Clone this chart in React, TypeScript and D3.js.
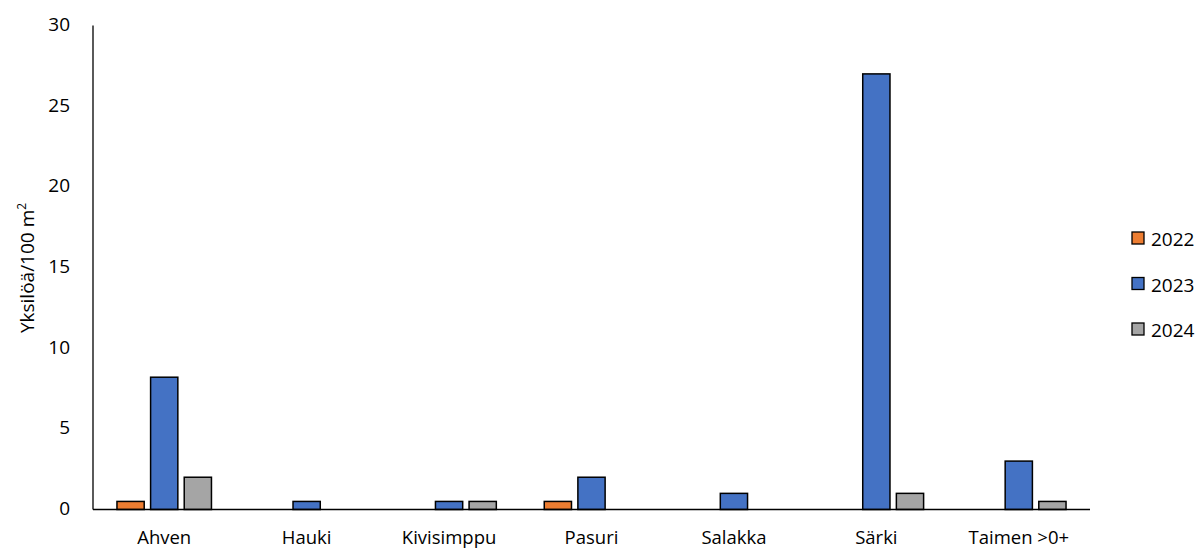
import React, { useEffect, useRef } from "react";
import * as d3 from "d3";

const categories = ["Ahven", "Hauki", "Kivisimppu", "Pasuri", "Salakka", "Särki", "Taimen >0+"];
const years = ["2022", "2023", "2024"];
const values2022 = [0.5, 0, 0, 0.5, 0, 0, 0];
const values2023 = [8.2, 0.5, 0.5, 2, 1, 27, 3];
const values2024 = [2, 0, 0.5, 0, 0, 1, 0.5];
const yTicks = [0, 5, 10, 15, 20, 25, 30];
const colors = ["#ED7D31", "#4472C4", "#A5A5A5"];

const App = () => {
  const ref = useRef<SVGSVGElement>(null);

  useEffect(() => {
    const svg = d3.select(ref.current);
    svg.selectAll("*").remove();

    const width = 1203;
    const height = 549;
    const left = 93;
    const right = 1090;
    const top = 25.5;
    const bottom = 509.5;
    const font = "'Open Sans', sans-serif";

    svg.attr("width", width).attr("height", height);

    const series = [values2022, values2023, values2024];

    const x = d3.scaleBand().domain(categories).range([left, right]).padding(0);
    const inner = d3.scaleBand().domain(years).range([0, 94.5]).paddingInner(0.19);
    const y = d3.scaleLinear().domain([0, 30]).range([bottom, top]);

    // bars
    categories.forEach((c, i) => {
      const gx = (x(c) as number) + x.bandwidth() / 2 - 47.25;
      years.forEach((yr, j) => {
        const v = series[j][i];
        if (!v) return;
        svg.append("rect")
          .attr("x", gx + (inner(yr) as number))
          .attr("y", y(v))
          .attr("width", inner.bandwidth())
          .attr("height", y(0) - y(v))
          .attr("fill", colors[j])
          .attr("stroke", "#000")
          .attr("stroke-width", 1.5);
      });
    });

    // axes lines
    svg.append("line")
      .attr("x1", left).attr("x2", left)
      .attr("y1", top).attr("y2", bottom)
      .attr("stroke", "#000").attr("stroke-width", 1.3);
    svg.append("line")
      .attr("x1", left).attr("x2", right)
      .attr("y1", bottom).attr("y2", bottom)
      .attr("stroke", "#000").attr("stroke-width", 1.3);

    // y tick labels
    svg.selectAll(".ytick")
      .data(yTicks)
      .enter()
      .append("text")
      .attr("x", 70)
      .attr("y", d => y(d) + 5.5)
      .attr("text-anchor", "end")
      .style("font-family", font)
      .style("font-size", "19px")
      .attr("fill", "#000")
      .text(d => d);

    // x labels
    svg.selectAll(".xlab")
      .data(categories)
      .enter()
      .append("text")
      .attr("x", d => (x(d) as number) + x.bandwidth() / 2)
      .attr("y", 544)
      .attr("text-anchor", "middle")
      .style("font-family", font)
      .style("font-size", "18.5px")
      .attr("fill", "#000")
      .text(d => d);

    // y title
    const t = svg.append("text")
      .attr("transform", "translate(34,268) rotate(-90)")
      .attr("text-anchor", "middle")
      .style("font-family", font)
      .style("font-size", "19px")
      .attr("fill", "#000");
    t.append("tspan").text("Yksilöä/100 m");
    t.append("tspan").attr("baseline-shift", "super").style("font-size", "12px").text("2");

    // legend
    years.forEach((yr, j) => {
      const ly = 232 + j * 45.5;
      svg.append("rect")
        .attr("x", 1132).attr("y", ly)
        .attr("width", 12).attr("height", 12)
        .attr("fill", colors[j])
        .attr("stroke", "#000").attr("stroke-width", 1.3);
      svg.append("text")
        .attr("x", 1151).attr("y", ly + 14)
        .style("font-family", font)
        .style("font-size", "19px")
        .attr("fill", "#000")
        .text(yr);
    });
  }, []);

  return (
    <svg ref={ref} style={{ position: "absolute", left: 0, top: 0 }}></svg>
  );
};

export default App;
